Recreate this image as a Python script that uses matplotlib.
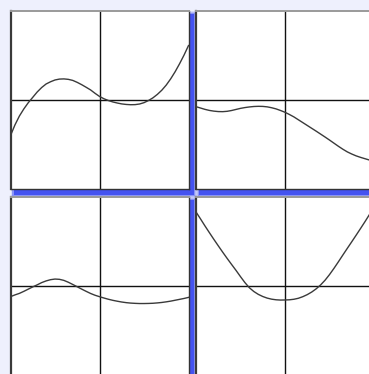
import matplotlib
matplotlib.use("Agg")
import matplotlib.pyplot as plt
from matplotlib.patches import Rectangle

W, H = 369, 374
DPI = 100

# Sample positions shared by every panel (x and y both span [-1, 1])
x_samples = [-1.00, -0.95, -0.90, -0.85, -0.80, -0.75, -0.70, -0.65, -0.60, -0.55,
             -0.50, -0.45, -0.40, -0.35, -0.30, -0.25, -0.20, -0.15, -0.10, -0.05,
             0.00, 0.05, 0.10, 0.15, 0.20, 0.25, 0.30, 0.35, 0.40, 0.45,
             0.50, 0.55, 0.60, 0.65, 0.70, 0.75, 0.80, 0.85, 0.90, 0.95, 1.00]

y_top_left = [-0.400, -0.280, -0.180, -0.100, -0.030, 0.030, 0.090, 0.140, 0.180, 0.205,
              0.225, 0.235, 0.237, 0.232, 0.220, 0.198, 0.172, 0.143, 0.113, 0.075,
              0.040, 0.014, -0.006, -0.022, -0.034, -0.044, -0.050, -0.053, -0.052, -0.045,
              -0.030, -0.006, 0.024, 0.063, 0.110, 0.168, 0.238, 0.318, 0.408, 0.505, 0.612]

y_top_right = [-0.075, -0.090, -0.105, -0.117, -0.125, -0.130, -0.131, -0.127, -0.118, -0.106,
               -0.094, -0.085, -0.078, -0.073, -0.071, -0.072, -0.077, -0.087, -0.100, -0.118,
               -0.138, -0.163, -0.190, -0.222, -0.254, -0.286, -0.318, -0.350, -0.383, -0.416,
               -0.450, -0.485, -0.520, -0.553, -0.583, -0.607, -0.628, -0.645, -0.660, -0.675, -0.690]

y_bottom_left = [-0.120, -0.100, -0.083, -0.060, -0.035, -0.010, 0.013, 0.038, 0.057, 0.071,
                 0.078, 0.075, 0.063, 0.042, 0.017, -0.009, -0.035, -0.060, -0.084, -0.104,
                 -0.120, -0.135, -0.149, -0.161, -0.171, -0.180, -0.187, -0.192, -0.195, -0.197,
                 -0.197, -0.196, -0.194, -0.190, -0.185, -0.178, -0.170, -0.160, -0.150, -0.140, -0.128]

y_bottom_right = [0.832, 0.755, 0.676, 0.600, 0.525, 0.452, 0.380, 0.310, 0.242, 0.175,
                  0.105, 0.038, -0.020, -0.062, -0.094, -0.118, -0.136, -0.148, -0.155, -0.158,
                  -0.157, -0.155, -0.149, -0.138, -0.120, -0.097, -0.068, -0.032, 0.012, 0.065,
                  0.128, 0.198, 0.272, 0.348, 0.423, 0.497, 0.572, 0.648, 0.725, 0.805, 0.885]

series = [y_top_left, y_top_right, y_bottom_left, y_bottom_right]

BG = "#eef0fd"
fig = plt.figure(figsize=(W / DPI, H / DPI), dpi=DPI, facecolor=BG)

SIZE = 178
origins = [(10.5, 11), (196, 11), (10.5, 197), (196, 197)]


def frac_rect(left, top, w, h):
    return [left / W, 1 - (top + h) / H, w / W, h / H]


# soft blue drop shadow behind each panel
for (left, top) in origins:
    for grow, alpha in [(3.0, 0.12), (2.0, 0.2), (1.0, 0.35), (0.0, 0.85)]:
        l = left + 3 - grow
        t = top + 3 - grow
        w = SIZE + 2.5 + 2 * grow
        h = SIZE + 2.5 + 2 * grow
        x0, y0, fw, fh = frac_rect(l, t, w, h)
        fig.patches.append(Rectangle((x0, y0), fw, fh, transform=fig.transFigure,
                                     facecolor="#3848f0", edgecolor="none",
                                     alpha=alpha, zorder=-5))

for (left, top), ys in zip(origins, series):
    ax = fig.add_axes(frac_rect(left, top, SIZE, SIZE))
    ax.set_zorder(5)
    ax.set_facecolor("white")
    ax.set_xlim(-1, 1)
    ax.set_ylim(-1, 1)
    ax.set_xticks([])
    ax.set_yticks([])
    ax.axhline(0, color="#111111", lw=1.0)
    ax.axvline(0, color="#111111", lw=1.0)
    ax.plot(x_samples, ys, color="#3a3a3a", lw=1.0, solid_joinstyle="round")
    ax.spines["left"].set_color("#3a3a3a")
    ax.spines["left"].set_linewidth(1.6)
    ax.spines["top"].set_color("#9a9a9a")
    ax.spines["top"].set_linewidth(1.4)
    ax.spines["right"].set_color("#333333")
    ax.spines["right"].set_linewidth(1.0)
    ax.spines["bottom"].set_color("#333333")
    ax.spines["bottom"].set_linewidth(1.0)

fig.savefig("out.png", dpi=DPI, facecolor=BG)
